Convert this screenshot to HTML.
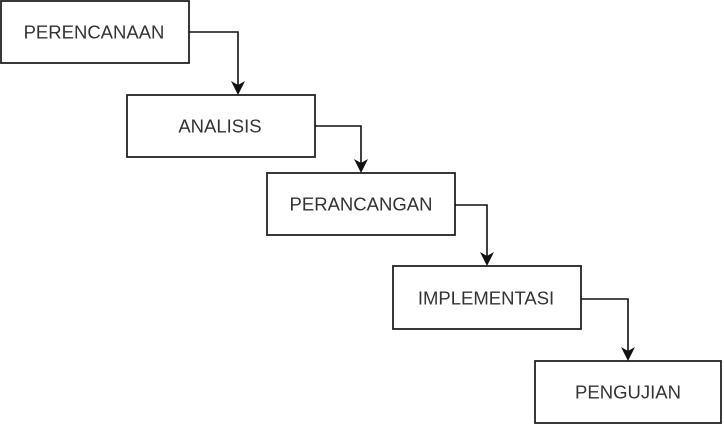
<!DOCTYPE html>
<html><head><meta charset="utf-8"><style>
html,body{margin:0;padding:0;background:#fff;width:724px;height:426px;overflow:hidden}
svg{display:block}
text{font-family:"Liberation Sans",Arial,sans-serif;font-size:18.5px;fill:#333;text-anchor:middle;dominant-baseline:central}
</style></head><body>
<svg width="724" height="426" viewBox="0 0 724 426">
<g fill="#fff" stroke="#222" stroke-width="1.8">
<rect x="1" y="1" width="188" height="62"/>
<rect x="127" y="95" width="188" height="62"/>
<rect x="267" y="173" width="188" height="62"/>
<rect x="393" y="266" width="188" height="63"/>
<rect x="535" y="361" width="186" height="62"/>
</g>
<g fill="none" stroke="#111" stroke-width="1.6">
<path d="M189 32 H238 V85"/>
<path d="M315 126 H361 V163"/>
<path d="M455 205 H487 V256"/>
<path d="M581 299 H628 V351"/>
</g>
<g fill="#111">
<path d="M231 81 L238 85 L245 81 L238 95 Z"/>
<path d="M354 159 L361 163 L368 159 L361 173 Z"/>
<path d="M480 252 L487 256 L494 252 L487 266 Z"/>
<path d="M621 347 L628 351 L635 347 L628 361 Z"/>
</g>
<text x="94" y="32">PERENCANAAN</text>
<text x="220" y="126">ANALISIS</text>
<text x="361" y="204">PERANCANGAN</text>
<text x="486" y="298">IMPLEMENTASI</text>
<text x="628" y="392">PENGUJIAN</text>
</svg>
</body></html>
